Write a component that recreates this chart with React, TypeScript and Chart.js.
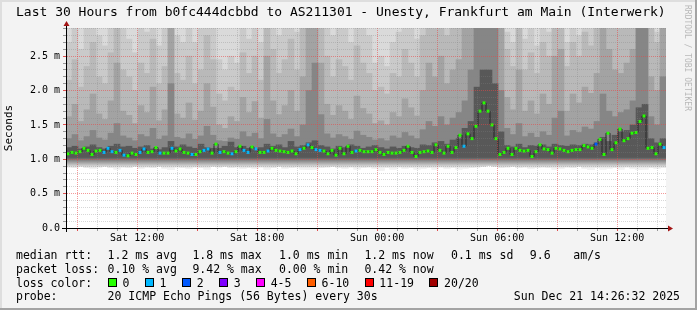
import React, { useEffect, useRef } from 'react';
import { Chart, registerables } from 'chart.js';

Chart.register(...registerables);

// ---------- time axis (hours since Sat 00:00) ----------
const START_HOUR = 8 + 26 / 60 + 32 / 3600; // Sat 08:26:32
const SPAN_HOURS = 30;
const END_HOUR = START_HOUR + SPAN_HOURS; // Sun 14:26:32
const MEDIAN_STEP = 0.2; // hours per median sample
const SMOKE_STEP = 0.3; // hours per smoke column

const Y_MAX = 2.91; // milliseconds
const SMOKE_CEIL = 3.2; // highest pings are off-scale

const hourTicks = [9, 10, 11, 12, 13, 14, 15, 16, 17, 18, 19, 20, 21, 22, 23, 24, 25, 26, 27, 28, 29, 30, 31, 32, 33, 34, 35, 36, 37, 38];
const labelHours = [12, 18, 24, 30, 36];
const labelTexts = ['Sat 12:00', 'Sat 18:00', 'Sun 00:00', 'Sun 06:00', 'Sun 12:00'];

// ---------- median rtt (ms) ----------
const medianRtt = [
  1.08, 1.10, 1.09, 1.11, 1.16, 1.13, 1.07, 1.12, 1.13, 1.10,
  1.16, 1.11, 1.10, 1.13, 1.06, 1.05, 1.09, 1.07, 1.10, 1.15,
  1.10, 1.11, 1.17, 1.09, 1.09, 1.09, 1.16, 1.12, 1.15, 1.10,
  1.09, 1.07, 1.07, 1.11, 1.13, 1.15, 1.09, 1.22, 1.10, 1.11,
  1.09, 1.08, 1.11, 1.19, 1.13, 1.10, 1.18, 1.15, 1.10, 1.10,
  1.12, 1.16, 1.13, 1.12, 1.11, 1.10, 1.12, 1.08, 1.14, 1.16,
  1.21, 1.17, 1.14, 1.13, 1.12, 1.08, 1.13, 1.06, 1.16, 1.08,
  1.19, 1.10, 1.12, 1.13, 1.11, 1.11, 1.11, 1.14, 1.10, 1.07,
  1.10, 1.09, 1.09, 1.10, 1.13, 1.19, 1.10, 1.04, 1.10, 1.11,
  1.12, 1.10, 1.21, 1.13, 1.09, 1.19, 1.10, 1.17, 1.35, 1.19,
  1.37, 1.30, 1.48, 1.70, 1.82, 1.70, 1.50, 1.30, 1.07, 1.10,
  1.16, 1.07, 1.16, 1.13, 1.12, 1.13, 1.04, 1.11, 1.21, 1.15,
  1.14, 1.09, 1.16, 1.15, 1.13, 1.11, 1.13, 1.14, 1.14, 1.20,
  1.18, 1.16, 1.22, 1.29, 1.07, 1.38, 1.14, 1.24, 1.44, 1.27,
  1.30, 1.38, 1.39, 1.55, 1.63, 1.16, 1.17, 1.08, 1.22, 1.17,
];

// ---------- lost pings per median sample (of 20) ----------
const lostPings = [
  0, 0, 0, 0, 0, 0, 0, 0, 0, 1,
  1, 1, 0, 1, 1, 0, 0, 0, 1, 1,
  0, 0, 0, 1, 0, 0, 1, 0, 0, 0,
  0, 1, 0, 0, 1, 1, 0, 0, 1, 0,
  0, 1, 0, 0, 1, 1, 0, 1, 0, 0,
  1, 0, 0, 0, 0, 0, 0, 0, 1, 0,
  1, 0, 1, 1, 0, 0, 0, 0, 0, 0,
  0, 0, 1, 0, 0, 0, 0, 0, 0, 0,
  0, 0, 0, 0, 0, 0, 0, 0, 0, 0,
  0, 0, 0, 0, 0, 0, 0, 0, 0, 1,
  0, 0, 0, 0, 0, 0, 0, 0, 0, 0,
  0, 0, 0, 0, 0, 0, 0, 0, 0, 0,
  0, 0, 0, 0, 0, 0, 0, 0, 0, 0,
  0, 0, 2, 0, 0, 0, 0, 0, 0, 0,
  0, 0, 0, 0, 0, 0, 0, 0, 0, 1,
];

// ---------- smoke (ping spread per column, ms) ----------
const smokeLow = [
  0.89, 0.88, 0.90, 0.88, 0.87, 0.89, 0.90, 0.88, 0.86, 0.89,
  0.88, 0.90, 0.87, 0.89, 0.88, 0.90, 0.87, 0.85, 0.89, 0.88,
  0.87, 0.89, 0.88, 0.86, 0.90, 0.89, 0.90, 0.88, 0.89, 0.87,
  0.88, 0.87, 0.89, 0.86, 0.88, 0.90, 0.87, 0.88, 0.89, 0.86,
  0.85, 0.86, 0.88, 0.89, 0.90, 0.88, 0.87, 0.89, 0.86, 0.88,
  0.89, 0.87, 0.84, 0.88, 0.86, 0.89, 0.87, 0.88, 0.86, 0.87,
  0.88, 0.86, 0.89, 0.87, 0.88, 0.86, 0.87, 0.88, 0.89, 0.90,
  0.91, 0.90, 0.88, 0.89, 0.90, 0.88, 0.89, 0.87, 0.88, 0.89,
  0.88, 0.86, 0.87, 0.89, 0.88, 0.90, 0.87, 0.85, 0.88, 0.86,
  0.87, 0.88, 0.86, 0.89, 0.87, 0.85, 0.86, 0.88, 0.87, 0.88,
];
const smokeHi2 = [
  2.70, 3.00, 2.60, 3.00, 3.00, 2.80, 2.65, 3.00, 3.00, 2.90,
  2.75, 2.55, 3.00, 2.85, 3.00, 2.65, 2.95, 3.00, 2.80, 2.70,
  3.00, 2.70, 2.90, 3.00, 3.00, 2.45, 2.30, 2.50, 2.40, 2.95,
  2.75, 3.00, 2.70, 3.00, 3.00, 2.80, 3.00, 3.00, 2.85, 3.00,
  3.00, 3.00, 3.00, 3.00, 2.80, 3.00, 2.90, 2.70, 3.00, 2.95,
  2.80, 2.40, 2.50, 2.35, 2.70, 2.85, 3.00, 2.95, 2.75, 3.00,
  3.00, 3.00, 3.00, 2.90, 3.00, 3.00, 3.00, 3.00, 3.00, 3.00,
  3.00, 3.00, 3.00, 2.85, 2.70, 3.00, 2.75, 2.90, 2.65, 3.00,
  2.85, 3.00, 3.00, 2.70, 2.95, 2.80, 3.00, 2.90, 3.00, 3.00,
  3.00, 3.00, 2.90, 3.00, 3.00, 3.00, 3.00, 3.00, 2.85, 3.00,
];
const smokeHi3 = [
  2.15, 2.45, 2.05, 2.35, 2.70, 2.20, 2.10, 2.55, 3.00, 2.30,
  2.20, 2.00, 2.40, 2.25, 2.75, 2.10, 2.35, 3.00, 2.25, 2.15,
  2.50, 2.10, 2.30, 2.80, 2.45, 1.95, 1.85, 2.05, 2.00, 2.55,
  2.25, 2.50, 2.15, 3.00, 2.60, 2.25, 2.45, 2.75, 2.30, 3.00,
  3.00, 3.00, 3.00, 2.50, 2.20, 2.45, 2.35, 2.15, 2.65, 2.40,
  2.25, 2.00, 2.05, 1.95, 2.25, 2.20, 2.60, 2.40, 2.20, 2.80,
  3.00, 2.90, 3.00, 2.80, 3.00, 3.00, 3.00, 3.00, 3.00, 3.00,
  3.00, 3.00, 3.00, 2.60, 2.35, 3.00, 2.30, 2.55, 2.25, 2.70,
  2.50, 3.00, 3.00, 2.35, 2.70, 2.50, 2.85, 2.65, 3.00, 3.00,
  3.00, 3.00, 2.90, 3.00, 3.00, 3.00, 3.00, 2.90, 2.70, 3.00,
];
const smokeHi4 = [
  1.62, 1.80, 1.55, 1.72, 1.95, 1.66, 1.58, 1.85, 2.40, 1.70,
  1.64, 1.52, 1.78, 1.68, 2.05, 1.56, 1.72, 3.00, 1.66, 1.60,
  1.82, 1.57, 1.70, 2.10, 1.76, 1.50, 1.45, 1.62, 1.55, 1.90,
  1.68, 1.84, 1.60, 2.50, 1.85, 1.65, 1.78, 2.00, 1.70, 2.20,
  3.00, 3.00, 2.40, 1.80, 1.64, 1.78, 1.70, 1.58, 1.92, 1.74,
  1.66, 1.52, 1.56, 1.50, 1.68, 1.62, 1.88, 1.75, 1.63, 2.00,
  2.40, 2.20, 2.50, 2.10, 2.30, 2.45, 3.00, 3.00, 3.00, 3.00,
  3.00, 3.00, 3.00, 1.90, 1.72, 2.30, 1.70, 1.85, 1.66, 1.95,
  1.80, 2.50, 2.60, 1.70, 1.95, 1.82, 2.05, 1.96, 2.25, 3.00,
  2.60, 2.30, 2.25, 2.40, 2.60, 3.00, 3.00, 2.20, 2.00, 3.00,
];
const smokeHi5 = [
  1.30, 1.36, 1.27, 1.33, 1.42, 1.31, 1.28, 1.38, 1.52, 1.34,
  1.31, 1.27, 1.36, 1.33, 1.45, 1.29, 1.34, 2.10, 1.32, 1.30,
  1.37, 1.29, 1.34, 1.48, 1.35, 1.27, 1.26, 1.31, 1.29, 1.40,
  1.33, 1.38, 1.30, 1.58, 1.37, 1.32, 1.36, 1.44, 1.33, 1.50,
  2.00, 2.40, 1.65, 1.37, 1.31, 1.36, 1.33, 1.29, 1.41, 1.35,
  1.32, 1.28, 1.30, 1.27, 1.34, 1.31, 1.39, 1.34, 1.30, 1.43,
  1.55, 1.48, 1.62, 1.50, 1.60, 1.68, 1.85, 2.30, 3.00, 3.00,
  3.00, 3.00, 2.00, 1.45, 1.36, 1.52, 1.33, 1.38, 1.32, 1.40,
  1.35, 1.60, 1.70, 1.34, 1.42, 1.39, 1.47, 1.44, 1.55, 1.95,
  1.70, 1.62, 1.68, 1.72, 1.85, 3.00, 3.00, 1.62, 1.50, 2.20,
];
const smokeHi6 = [
  1.17, 1.19, 1.15, 1.18, 1.21, 1.17, 1.15, 1.19, 1.22, 1.18,
  1.19, 1.16, 1.18, 1.20, 1.15, 1.14, 1.17, 1.26, 1.18, 1.21,
  1.18, 1.16, 1.22, 1.17, 1.16, 1.16, 1.19, 1.25, 1.17, 1.19,
  1.16, 1.14, 1.17, 1.22, 1.19, 1.21, 1.17, 1.26, 1.18, 1.20,
  1.24, 1.27, 1.20, 1.18, 1.15, 1.19, 1.17, 1.21, 1.19, 1.16,
  1.18, 1.20, 1.17, 1.15, 1.18, 1.16, 1.19, 1.17, 1.16, 1.21,
  1.20, 1.24, 1.26, 1.22, 1.28, 1.30, 1.45, 1.55, 2.05, 2.30,
  2.30, 2.10, 1.40, 1.20, 1.18, 1.22, 1.17, 1.20, 1.19, 1.21,
  1.18, 1.22, 1.20, 1.19, 1.21, 1.20, 1.22, 1.21, 1.24, 1.32,
  1.26, 1.35, 1.40, 1.42, 1.50, 1.75, 1.80, 1.30, 1.24, 1.30,
];

// ---------- legend texts ----------
const titleText = 'Last 30 Hours from b0fc444dcbbd to AS211301 - Unesty, Frankfurt am Main (Interwerk)';
const rttLegend = ['median rtt:', '1.2 ms avg', '1.8 ms max', '1.0 ms min', '1.2 ms now', '0.1 ms sd', '9.6', 'am/s'];
const lossLegend = ['packet loss:', '0.10 % avg', '9.42 % max', '0.00 % min', '0.42 % now'];
const lossColorTitle = 'loss color:';
const lossLabels = ['0', '1', '2', '3', '4-5', '6-10', '11-19', '20/20'];
const lossColors = ['#26ff00', '#00b8ff', '#0059ff', '#7e00ff', '#ff00ff', '#ff5e00', '#ff0000', '#a10000'];
const lossUpper = [0, 1, 2, 3, 5, 10, 19, 20];
const probeTitle = 'probe:';
const probeText = '20 ICMP Echo Pings (56 Bytes) every 30s';
const stampText = 'Sun Dec 21 14:26:32 2025';
const watermark = 'RRDTOOL / TOBI OETIKER';

const MONO = '"DejaVu Sans Mono", monospace';
const smokeColors = ['#dadada', '#cacaca', '#b9b9b9', '#a3a3a3', '#868686', '#585858'];
const MAJOR_GRID = 'rgba(235,70,70,0.55)';
const MINOR_GRID = 'rgba(130,130,130,0.32)';

const lossClass = (n: number) => {
  for (let k = 0; k < lossUpper.length; k++) if (n <= lossUpper[k]) return k;
  return lossUpper.length - 1;
};
const isHalf = (v: number) => Math.abs(v * 2 - Math.round(v * 2)) < 1e-6;
const isMajorHour = (v: number) => Math.abs(v - Math.round(v)) < 1e-6 && Math.round(v) % 3 === 0;

const smokeTimes = smokeLow.map((_, j) => START_HOUR + (j + 0.5) * SMOKE_STEP);
const medianTimes = medianRtt.map((_, i) => START_HOUR + (i + 0.5) * MEDIAN_STEP);

const fadeFill = (color: string) => (c: any) => {
  const chart = c.chart;
  const ys = chart.scales && chart.scales.y;
  if (!chart.chartArea || !ys) return color;
  const g = chart.ctx.createLinearGradient(0, ys.getPixelForValue(1.03), 0, ys.getPixelForValue(0.87));
  g.addColorStop(0, color);
  g.addColorStop(1, '#f2f2f2');
  return g;
};

const decorPlugin = {
  id: 'rrdDecor',
  beforeDraw(chart: any) {
    const { ctx, chartArea: a, width, height } = chart;
    ctx.save();
    ctx.fillStyle = '#f3f3f3';
    ctx.fillRect(0, 0, width, height);
    ctx.fillStyle = '#dedede';
    ctx.fillRect(0, 0, width, 2);
    ctx.fillRect(0, 0, 2, height);
    ctx.fillStyle = '#a3a3a3';
    ctx.fillRect(width - 2, 0, 2, height);
    ctx.fillRect(0, height - 2, width, 2);
    ctx.fillStyle = '#ffffff';
    ctx.fillRect(a.left, a.top, a.right - a.left, a.bottom - a.top);
    ctx.restore();
  },
  afterDraw(chart: any) {
    const { ctx, chartArea: a } = chart;
    ctx.save();
    const ax = Math.round(a.left) + 0.5;
    const ay = Math.round(a.bottom) + 0.5;
    ctx.strokeStyle = '#000';
    ctx.lineWidth = 1;
    ctx.beginPath();
    ctx.moveTo(a.left - 4, ay);
    ctx.lineTo(a.right + 2, ay);
    ctx.moveTo(ax, a.bottom + 4);
    ctx.lineTo(ax, a.top - 2);
    ctx.stroke();
    ctx.fillStyle = '#a31515';
    ctx.beginPath();
    ctx.moveTo(a.right + 2, ay - 3);
    ctx.lineTo(a.right + 7, ay);
    ctx.lineTo(a.right + 2, ay + 3);
    ctx.closePath();
    ctx.fill();
    ctx.beginPath();
    ctx.moveTo(ax - 3, a.top - 2);
    ctx.lineTo(ax, a.top - 7);
    ctx.lineTo(ax + 3, a.top - 2);
    ctx.closePath();
    ctx.fill();

    ctx.fillStyle = '#000';
    ctx.textBaseline = 'alphabetic';
    ctx.textAlign = 'left';
    ctx.font = `13px ${MONO}`;
    ctx.fillText(titleText, 16, 15.5);

    ctx.font = `11.5px ${MONO}`;
    const cols = [16, 107.6, 192.4, 279, 364.4, 451, 529.8, 573.3];
    rttLegend.forEach((s, k) => ctx.fillText(s, cols[k], 259));
    lossLegend.forEach((s, k) => ctx.fillText(s, cols[k], 272.5));
    ctx.fillText(lossColorTitle, 16, 286.5);
    let bx = 108;
    lossLabels.forEach((lab, k) => {
      const x0 = Math.round(bx);
      ctx.fillStyle = '#000';
      ctx.fillRect(x0, 278, 9, 9);
      ctx.fillStyle = lossColors[k];
      ctx.fillRect(x0 + 1, 279, 7, 7);
      ctx.fillStyle = '#000';
      const lx = bx + 14.6;
      ctx.fillText(lab, lx, 286.5);
      bx = lx + ctx.measureText(lab).width + 15.5;
    });
    ctx.fillText(probeTitle, 16, 300);
    ctx.fillText(probeText, cols[1], 300);
    ctx.textAlign = 'right';
    ctx.fillText(stampText, 680, 300);

    ctx.textAlign = 'left';
    ctx.translate(684.5, 5);
    ctx.rotate(Math.PI / 2);
    ctx.font = `8px ${MONO}`;
    ctx.fillStyle = '#b8b8b8';
    ctx.fillText(watermark, 0, 0);
    ctx.restore();
  },
};

export default function App() {
  const ref = useRef<HTMLCanvasElement | null>(null);

  useEffect(() => {
    if (!ref.current) return;
    const datasets: any[] = [];
    const tops = [null, smokeHi2, smokeHi3, smokeHi4, smokeHi5, smokeHi6];
    tops.forEach((top, k) => {
      datasets.push({
        type: 'bar',
        data: smokeTimes.map((t, j) => ({ x: t, y: [smokeLow[j], top ? top[j] : SMOKE_CEIL] })),
        backgroundColor: fadeFill(smokeColors[k]),
        borderWidth: 0,
        grouped: false,
        barPercentage: 1,
        categoryPercentage: 1,
        order: 20 - k,
      });
    });
    datasets.push({
      type: 'line',
      data: medianTimes.map((t, i) => ({ x: t, y: medianRtt[i] })),
      borderColor: '#262626',
      borderWidth: 1,
      pointRadius: 0,
      stepped: 'middle',
      fill: false,
      order: 2,
    });
    datasets.push({
      type: 'scatter',
      data: medianTimes.map((t, i) => ({ x: t, y: medianRtt[i] })),
      showLine: false,
      pointStyle: 'rect',
      pointRadius: 2.1,
      pointBorderWidth: 0,
      pointBackgroundColor: lostPings.map((n) => lossColors[lossClass(n)]),
      order: 1,
    });

    const tickFont = { family: MONO, size: 10 };
    const chart = new Chart(ref.current, {
      type: 'scatter',
      data: { datasets },
      plugins: [decorPlugin],
      options: {
        responsive: false,
        animation: false,
        devicePixelRatio: 1,
        events: [],
        layout: { padding: { left: 0, right: 31, top: 28, bottom: 62 } },
        plugins: { legend: { display: false }, tooltip: { enabled: false }, title: { display: false } },
        scales: {
          x: {
            type: 'linear',
            min: START_HOUR,
            max: END_HOUR,
            bounds: 'data',
            offset: false,
            afterBuildTicks: (s: any) => {
              s.ticks = hourTicks.map((v) => ({ value: v }));
            },
            afterFit: (s: any) => {
              s.height = 20;
            },
            ticks: {
              autoSkip: false,
              maxRotation: 0,
              minRotation: 0,
              padding: 1,
              color: '#000',
              font: tickFont,
              callback: (v: any) => {
                const k = labelHours.indexOf(Math.round(v));
                return k >= 0 && Math.abs(v - Math.round(v)) < 1e-6 ? labelTexts[k] : '';
              },
            },
            grid: {
              z: 1,
              offset: false,
              lineWidth: 1,
              tickLength: 3,
              borderDash: [1, 1],
              color: (c: any) => (c.tick && isMajorHour(c.tick.value) ? MAJOR_GRID : MINOR_GRID),
              tickColor: (c: any) => (c.tick && isMajorHour(c.tick.value) ? 'rgba(220,40,40,0.8)' : 'rgba(90,90,90,0.6)'),
            },
            border: { display: true, color: '#000', width: 1, dash: [1, 1], z: 2 },
          },
          y: {
            type: 'linear',
            min: 0,
            max: Y_MAX,
            bounds: 'data',
            afterFit: (s: any) => {
              s.width = 66;
            },
            ticks: {
              stepSize: 0.1,
              includeBounds: false,
              autoSkip: false,
              padding: 3,
              color: '#000',
              font: tickFont,
              callback: (v: any) => (isHalf(v) ? (Math.abs(v) < 1e-9 ? '0.0' : Number(v).toFixed(1) + ' m') : ''),
            },
            grid: {
              z: 1,
              lineWidth: 1,
              tickLength: 3,
              borderDash: [1, 1],
              color: (c: any) => (c.tick && isHalf(c.tick.value) ? MAJOR_GRID : MINOR_GRID),
              tickColor: (c: any) => (c.tick && isHalf(c.tick.value) ? 'rgba(220,40,40,0.8)' : 'rgba(90,90,90,0.6)'),
            },
            border: { display: true, color: '#000', width: 1, dash: [1, 1], z: 2 },
            title: {
              display: true,
              text: 'Seconds',
              color: '#000',
              font: { family: MONO, size: 11 },
              padding: { top: 3, bottom: 0 },
            },
          },
        },
      } as any,
    } as any);
    return () => chart.destroy();
  }, []);

  return (
    <div style={{ position: 'absolute', left: 0, top: 0, width: 697, height: 310 }}>
      <canvas ref={ref} width={697} height={310} style={{ display: 'block', width: 697, height: 310 }} />
    </div>
  );
}
